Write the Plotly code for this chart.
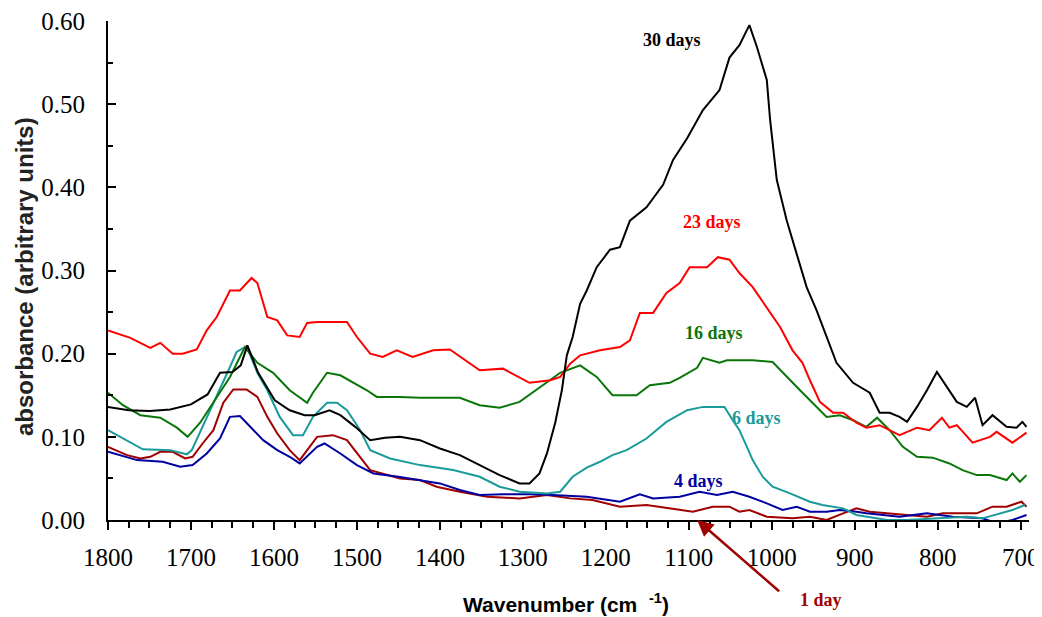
import plotly.graph_objects as go

# ---- data (wavenumber in cm-1, absorbance) ----
w_30 = [1800,1775,1750,1725,1700,1680,1665,1650,1640,1632,1619,1599,1581,1563,1551,1533,1520,1502,1484,1466,
        1448,1424,1400,1376,1352,1328,1304,1292,1280,1271,1261,1253,1247,1240,1231,1223,1211,1195,1183,1171,
        1151,1131,1119,1102,1083,1063,1051,1039,1027,1018,1006,1002,994,982,970,958,946,934,922,902,
        882,870,858,846,837,825,813,801,789,777,765,755,746,734,717,705,698,693]
a_30 = [0.136,0.132,0.131,0.133,0.139,0.151,0.177,0.178,0.186,0.21,0.177,0.144,0.132,0.126,0.126,0.132,0.126,0.112,0.096,0.099,
        0.100,0.096,0.086,0.078,0.066,0.054,0.044,0.044,0.056,0.08,0.117,0.156,0.198,0.22,0.26,0.276,0.304,0.325,0.328,0.36,
        0.376,0.403,0.433,0.459,0.493,0.517,0.556,0.571,0.595,0.569,0.529,0.481,0.409,0.36,0.32,0.28,0.252,0.22,0.189,0.165,
        0.153,0.129,0.129,0.124,0.118,0.136,0.156,0.178,0.16,0.142,0.136,0.147,0.114,0.126,0.112,0.111,0.118,0.112]

w_23 = [1800,1773,1749,1737,1722,1710,1693,1681,1669,1653,1641,1627,1620,1608,1596,1584,1569,1560,1548,1529,
        1512,1500,1484,1469,1452,1433,1408,1388,1352,1324,1292,1267,1255,1243,1231,1207,1183,1171,1159,1143,
        1127,1111,1099,1078,1065,1051,1039,1023,1006,990,975,963,954,942,926,914,898,886,870,846,
        825,810,795,786,777,758,737,729,710,693]
a_23 = [0.228,0.219,0.207,0.213,0.2,0.2,0.205,0.228,0.244,0.276,0.276,0.291,0.285,0.244,0.24,0.222,0.22,0.237,0.238,0.238,
        0.238,0.22,0.2,0.196,0.204,0.196,0.204,0.205,0.18,0.182,0.165,0.168,0.172,0.188,0.198,0.204,0.208,0.216,0.249,0.249,
        0.273,0.285,0.304,0.304,0.316,0.313,0.297,0.28,0.256,0.232,0.204,0.189,0.168,0.142,0.129,0.129,0.117,0.111,0.114,0.102,
        0.111,0.108,0.123,0.111,0.114,0.093,0.1,0.106,0.093,0.105]

w_16 = [1800,1782,1761,1737,1717,1704,1689,1673,1653,1641,1635,1620,1601,1581,1560,1553,1536,1520,1505,1488,
        1476,1448,1424,1392,1376,1352,1328,1304,1280,1255,1231,1211,1192,1180,1163,1147,1123,1111,1090,1083,
        1063,1054,1023,999,982,966,951,934,918,902,886,873,858,842,825,806,786,770,753,737,
        717,710,701,693]
a_16 = [0.153,0.138,0.126,0.123,0.111,0.1,0.117,0.141,0.172,0.196,0.208,0.189,0.177,0.156,0.141,0.153,0.177,0.174,0.166,0.156,
        0.148,0.148,0.147,0.147,0.147,0.138,0.135,0.142,0.159,0.177,0.186,0.172,0.15,0.15,0.15,0.162,0.165,0.171,0.183,0.195,
        0.189,0.192,0.192,0.19,0.172,0.156,0.141,0.124,0.126,0.12,0.112,0.123,0.108,0.088,0.076,0.075,0.068,0.06,0.054,0.054,
        0.048,0.056,0.046,0.054]

w_6 = [1800,1782,1758,1725,1705,1699,1686,1669,1653,1645,1633,1620,1608,1593,1577,1565,1553,1536,1524,1512,
       1496,1484,1460,1424,1384,1352,1328,1304,1271,1255,1240,1223,1207,1192,1175,1151,1127,1102,1083,1063,
       1057,1047,1039,1030,1023,1011,999,978,954,939,914,898,861,837,806,765,746,725,710,695]
a_6 = [0.108,0.098,0.085,0.084,0.079,0.084,0.112,0.148,0.184,0.202,0.209,0.177,0.156,0.124,0.102,0.102,0.124,0.141,0.141,0.132,
       0.108,0.084,0.074,0.066,0.06,0.052,0.04,0.034,0.032,0.034,0.052,0.063,0.07,0.078,0.084,0.098,0.118,0.132,0.136,0.136,
       0.136,0.12,0.108,0.088,0.072,0.052,0.04,0.032,0.022,0.018,0.014,0.006,0.0,0.0,0.002,0.004,0.002,0.008,0.012,0.018]

w_4 = [1800,1765,1734,1713,1698,1681,1665,1653,1641,1625,1613,1596,1581,1569,1548,1539,1520,1500,1480,1450,
       1424,1400,1376,1352,1324,1292,1264,1223,1183,1159,1143,1111,1087,1066,1047,1027,1006,987,970,954,
       934,918,898,886,846,813,782,746,729,710,693]
a_4 = [0.082,0.072,0.07,0.064,0.066,0.08,0.098,0.124,0.125,0.108,0.096,0.084,0.076,0.068,0.088,0.092,0.08,0.066,0.056,0.052,
       0.048,0.044,0.036,0.03,0.031,0.031,0.03,0.028,0.022,0.031,0.026,0.028,0.034,0.03,0.034,0.028,0.02,0.012,0.016,0.01,
       0.01,0.012,0.01,0.008,0.004,0.008,0.004,0.002,-0.004,0.0,0.006]

w_1 = [1800,1777,1761,1749,1737,1722,1707,1698,1686,1673,1661,1649,1633,1620,1608,1596,1581,1569,1548,1529,
       1512,1484,1448,1424,1404,1376,1343,1304,1271,1243,1216,1183,1151,1123,1095,1071,1051,1039,1027,1006,
       975,954,934,914,898,882,861,837,813,794,774,753,734,717,699,693]
a_1 = [0.088,0.078,0.074,0.076,0.082,0.082,0.074,0.076,0.092,0.108,0.141,0.157,0.157,0.148,0.124,0.104,0.084,0.072,0.1,0.102,
       0.096,0.06,0.05,0.048,0.04,0.034,0.028,0.026,0.03,0.026,0.024,0.016,0.018,0.014,0.01,0.016,0.016,0.01,0.012,0.004,
       0.002,0.004,0.0,0.008,0.014,0.01,0.008,0.006,0.004,0.008,0.008,0.008,0.016,0.016,0.022,0.016]

labels = ["30 days", "23 days", "16 days", "6 days", "4 days"]
label_x = [1120, 1072, 1070, 1018, 1088]
label_y = [0.577, 0.358, 0.225, 0.123, 0.047]

x_ticks = [1800, 1700, 1600, 1500, 1400, 1300, 1200, 1100, 1000, 900, 800, 700]
y_ticks = [0.0, 0.1, 0.2, 0.3, 0.4, 0.5, 0.6]

series = [
    (w_1, a_1, "#a00000"),
    (w_4, a_4, "#0000a0"),
    (w_6, a_6, "#1a9a9a"),
    (w_16, a_16, "#0a760a"),
    (w_23, a_23, "#ff0000"),
    (w_30, a_30, "#000000"),
]
label_colors = ["#000000", "#ff0000", "#0a760a", "#1a9a9a", "#0000a0"]

fig = go.Figure()
for w, a, c in series:
    fig.add_trace(go.Scatter(x=w, y=a, mode="lines", line=dict(color=c, width=2),
                             showlegend=False, hoverinfo="skip"))

serif = "Times New Roman"
sans = "Liberation Sans"

fig.update_layout(
    width=1042, height=617, autosize=False,
    margin=dict(l=100, r=21, t=13, b=105, autoexpand=False),
    paper_bgcolor="white", plot_bgcolor="white",
    font=dict(family=serif, color="black"),
    xaxis=dict(range=[1800, 690], tickvals=x_ticks, ticks="outside", ticklen=8, tickwidth=2,
               tickcolor="black", showline=True, linecolor="black", linewidth=2, automargin=False,
               showgrid=False, zeroline=False, tickfont=dict(family=serif, size=25, color="black"),
               ticklabelstandoff=6, ticklabeloverflow="allow",
               minor=dict(dtick=25, tick0=0, ticks="outside", ticklen=6, tickwidth=2, tickcolor="black")),
    yaxis=dict(range=[0, 0.6], tickvals=y_ticks, tickformat=".2f", ticks="inside", ticklen=8, tickwidth=2,
               tickcolor="black", showline=True, linecolor="black", linewidth=2, automargin=False,
               showgrid=False, zeroline=False, tickfont=dict(family=serif, size=25, color="black"),
               ticklabelstandoff=16, ticklabeloverflow="allow",
               minor=dict(dtick=0.05, tick0=0, ticks="inside", ticklen=5, tickwidth=2, tickcolor="black")),
)

for t, x, y, c in zip(labels, label_x, label_y, label_colors):
    fig.add_annotation(x=x, y=y, xref="x", yref="y", text="<b>" + t + "</b>", showarrow=False,
                       font=dict(family=serif, size=18, color=c))

# "1 day" label below the axis, with an arrow pointing to its trace
fig.add_annotation(x=0.774, y=-0.160, xref="paper", yref="paper", xanchor="center", yanchor="middle",
                   text="<b>1 day</b>", showarrow=False,
                   font=dict(family=serif, size=18, color="#a00000"))
fig.add_annotation(x=1090, y=0.0, xref="x", yref="y", ax=84, ay=73, axref="pixel", ayref="pixel",
                   text=" ", showarrow=True, arrowhead=2, arrowsize=1.3, arrowwidth=2.5,
                   arrowcolor="#a00000", font=dict(size=2))

fig.add_annotation(x=-0.090, y=0.487, xref="paper", yref="paper", xanchor="center", yanchor="middle",
                   text="<b>absorbance (arbitrary units)</b>",
                   textangle=-90, showarrow=False, font=dict(family=sans, size=24, color="#222222"))
fig.add_annotation(x=0.497, y=-0.166, xref="paper", yref="paper", xanchor="center", yanchor="middle",
                   text="<b>Wavenumber (cm  <sup>-1</sup>)</b>", showarrow=False,
                   font=dict(family=sans, size=21, color="black"))

fig.write_html("out.html")
